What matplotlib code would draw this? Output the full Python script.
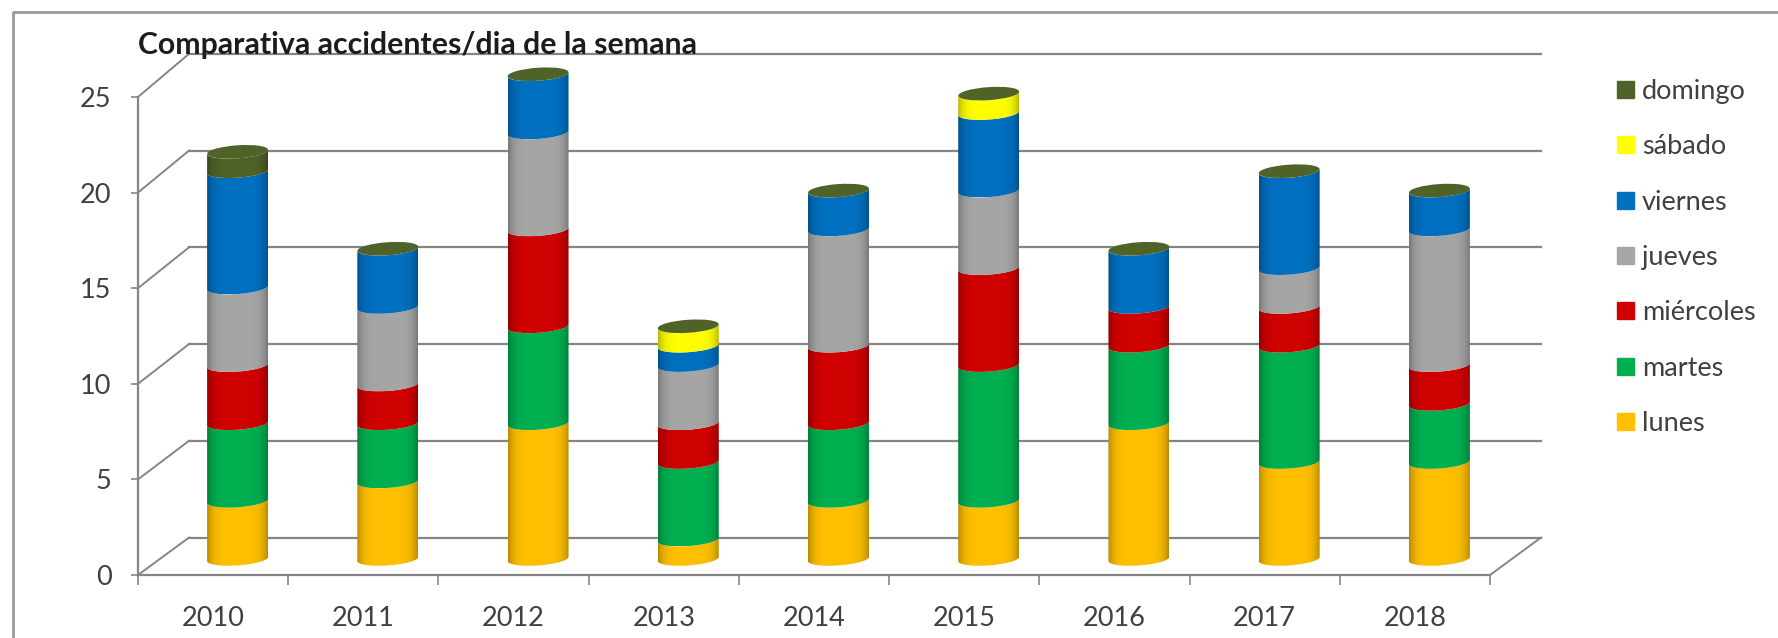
import numpy as np
import matplotlib
matplotlib.use('Agg')
import matplotlib.pyplot as plt
from matplotlib.patches import PathPatch, Patch, Ellipse
from matplotlib.path import Path
from matplotlib.lines import Line2D
from matplotlib.colors import to_rgb
from matplotlib.transforms import Affine2D

years = ['2010', '2011', '2012', '2013', '2014', '2015', '2016', '2017', '2018']
lunes = [3, 4, 7, 1, 3, 3, 7, 5, 5]
martes = [4, 3, 5, 4, 4, 7, 4, 6, 3]
miercoles = [3, 2, 5, 2, 4, 5, 2, 2, 2]
jueves = [4, 4, 5, 3, 6, 4, 0, 2, 7]
viernes = [6, 3, 3, 1, 2, 4, 3, 5, 2]
sabado = [0, 0, 0, 1, 0, 1, 0, 0, 0]
domingo = [1, 0, 0, 0, 0, 0, 0, 0, 0]
series = [lunes, martes, miercoles, jueves, viernes, sabado, domingo]
names = ['lunes', 'martes', 'miércoles', 'jueves', 'viernes', 'sábado', 'domingo']
colors = ['#FFC000', '#00B050', '#D00000', '#A6A6A6', '#0070C0', '#FFFF00', '#4F6228']
yticks = [0, 5, 10, 15, 20, 25]

plt.rcParams['font.family'] = ['Lato', 'DejaVu Sans']
GRID = '#858585'
TEXT = '#404040'

# axes runs higher than the 25 tick so the tallest bars are not cut off
YTOP = 28
PX_X = 1352 / 9
PX_Y = 478 / 25
fig = plt.figure(figsize=(17.78, 6.38), dpi=100)
ax = fig.add_axes([138 / 1778, (638 - 575) / 638, 1352 / 1778, PX_Y * YTOP / 638])
ax.patch.set_visible(False)
ax.set_xlim(-0.5, 8.5)
ax.set_ylim(0, YTOP)

# 3d look: how far things sit behind the front axis, in data units
BACK_X, BACK_Y = 0.34, 1.96
BAR_X, BAR_Y = 0.163, 0.5
YSCALE = 1.014
HALF_W, HALF_H, TILT = 0.203, 0.34, 0.11

# walls
for v in yticks:
    yb = BACK_Y + v * 1.012
    ax.plot([-0.5, -0.5 + BACK_X], [v, yb], color=GRID, lw=1.4, clip_on=False, zorder=1)
    ax.plot([-0.5 + BACK_X, 8.5 + BACK_X], [yb, yb], color=GRID, lw=1.6, clip_on=False, zorder=1)
ax.plot([8.5, 8.5 + BACK_X], [0, BACK_Y], color=GRID, lw=1.4, clip_on=False, zorder=1)


def edge(cx, v, n=40):
    # front half of a tilted ellipse, left to right
    t = np.linspace(np.pi, 2 * np.pi, n)
    return cx + HALF_W * np.cos(t), v + HALF_H * (1 + np.sin(t)) + TILT * np.cos(t)


def shade(color):
    # dark at both sides, full colour in the middle
    c = np.array(to_rgb(color))
    u = np.linspace(-1, 1, 128)
    k = 1 - 0.28 * np.abs(u) ** 5
    return (k[:, None] * c)[None, :, :]


totals = np.sum(series, axis=0)
ang = np.degrees(np.arctan2(TILT * PX_Y, HALF_W * PX_X))
for i, year in enumerate(years):
    cx = i + BAR_X
    base = 0
    for vals, col in zip(series, colors):
        h = vals[i]
        if h == 0:
            continue
        v0 = BAR_Y + base * YSCALE
        v1 = BAR_Y + (base + h) * YSCALE
        x0, y0 = edge(cx, v0)
        x1, y1 = edge(cx, v1)
        px = np.concatenate([x0, x1[::-1]])
        py = np.concatenate([y0, y1[::-1]])
        patch = PathPatch(Path(np.column_stack([px, py])), transform=ax.transData,
                          facecolor='none', edgecolor='none')
        ax.add_patch(patch)
        im = ax.imshow(shade(col), extent=[cx - HALF_W, cx + HALF_W, py.min(), py.max()],
                       aspect='auto', zorder=3, interpolation='bilinear')
        im.set_clip_path(patch)
        base += h
    top = BAR_Y + totals[i] * YSCALE + HALF_H
    cap = Ellipse((0, 0), 2 * HALF_W, 2 * HALF_H, facecolor=colors[-1], edgecolor='none', zorder=4)
    cap.set_transform(Affine2D().scale(PX_X, PX_Y).rotate_deg(ang)
                      .translate(*ax.transData.transform((cx, top))))
    ax.add_patch(cap)

ax.set_xlim(-0.5, 8.5)
ax.set_ylim(0, YTOP)

for s in ['top', 'right']:
    ax.spines[s].set_visible(False)
for s in ['left', 'bottom']:
    ax.spines[s].set_color(GRID)
    ax.spines[s].set_linewidth(1.6)
ax.spines['left'].set_bounds(0, 25)
ax.set_xticks(np.arange(-0.5, 9, 1))
ax.set_xticklabels([])
ax.set_xticks(np.arange(9), labels=years, minor=True)
ax.tick_params(axis='x', which='major', length=7, width=1.2, color=GRID)
ax.tick_params(axis='x', which='minor', length=0, pad=22.5, labelsize=19.5, labelcolor=TEXT)
ax.set_yticks(yticks)
ax.tick_params(axis='y', length=5, width=1.2, color=GRID, pad=14, labelsize=19.5, labelcolor=TEXT)

fig.text(138 / 1778, 1 - 45 / 638, 'Comparativa accidentes/dia de la semana', fontsize=21.8,
         fontweight='bold', color='#1c1c1c', va='center', ha='left', zorder=6)

handles = [Patch(color=c, label=n) for n, c in zip(names, colors)][::-1]
fig.legend(handles=handles, loc='upper left', bbox_to_anchor=(1617 / 1778, 1 - 79 / 638),
           frameon=False, fontsize=19.5, labelcolor=TEXT, labelspacing=1.12,
           handlelength=0.63, handleheight=0.6, handletextpad=0.28, borderpad=0, borderaxespad=0)

# outer chart frame
fig.add_artist(Line2D([13 / 1778, 13 / 1778, 1], [0, 1 - 12 / 638, 1 - 12 / 638], color='#9a9a9a', lw=2))

fig.savefig('out.png', dpi=100)
